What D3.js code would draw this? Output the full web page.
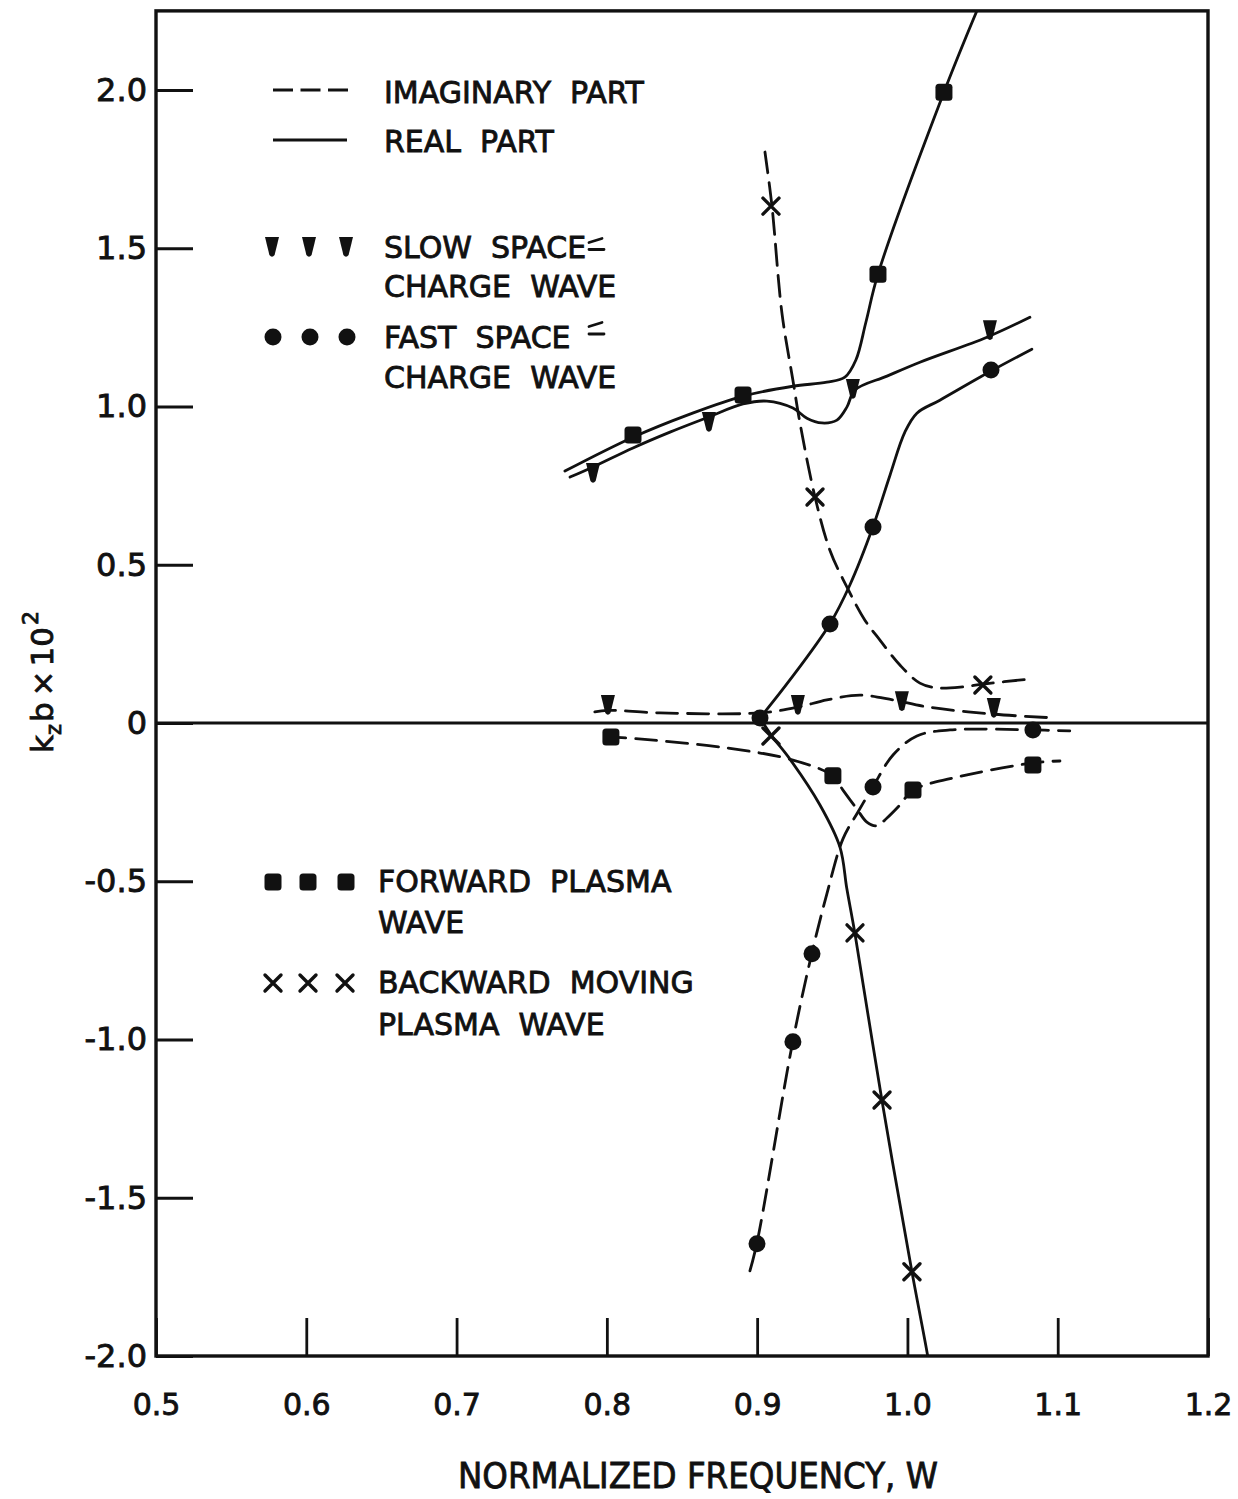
<!DOCTYPE html>
<html>
<head>
<meta charset="utf-8">
<script src="https://cdn.jsdelivr.net/npm/d3@7"></script>
<style>
  body { margin: 0; background: #fff; }
  text { font-family: "DejaVu Sans", sans-serif; fill: #111; }
</style>
</head>
<body>
<svg id="chart" width="1238" height="1499"></svg>
<script>
// Axis ticks
const xTicks = [0.5, 0.6, 0.7, 0.8, 0.9, 1.0, 1.1, 1.2];
const yTicks = [-2.0, -1.5, -1.0, -0.5, 0, 0.5, 1.0, 1.5, 2.0];

// Dispersion curves, [W, kz*b*100]
// Slow space-charge wave
const slowReal = [[0.7755,0.777],[0.7908,0.809],[0.8174,0.869],[0.842,0.919],[0.8679,0.967],[0.8906,1.008],[0.9065,1.017],[0.9238,0.995],[0.9331,0.963],[0.9431,0.948],[0.9531,0.957],[0.9597,0.998],[0.9651,1.052],[0.9864,1.096],[1.0083,1.140],[1.0529,1.219],[1.0815,1.282]];
const slowImag = [[0.792,0.035],[0.8007,0.040],[0.8353,0.032],[0.9019,0.032],[0.9271,0.050],[0.9464,0.073],[0.9684,0.088],[0.9904,0.073],[1.0130,0.051],[1.0569,0.028],[1.0981,0.016]];
const slowRealPts = [[0.7908,0.790],[0.8679,0.951],[0.9637,1.055],[1.0549,1.241]];
const slowImagPts = [[0.8007,0.057],[0.9271,0.057],[0.9963,0.069],[1.0575,0.047]];

// Fast space-charge wave
const fastReal = [[0.9019,0.016],[0.9218,0.136],[0.9484,0.313],[0.9617,0.436],[0.9770,0.619],[0.9884,0.783],[0.9983,0.919],[1.0063,0.979],[1.0216,1.020],[1.0556,1.112],[1.0828,1.181]];
const fastImag = [[0.8952,-1.731],[0.8999,-1.642],[0.9238,-1.004],[0.9365,-0.726],[0.9464,-0.540],[0.9571,-0.366],[0.9671,-0.281],[0.9770,-0.202],[0.9904,-0.101],[1.0063,-0.041],[1.0283,-0.022],[1.0835,-0.022],[1.108,-0.025]];
const fastRealPts = [[0.9019,0.016],[0.9485,0.313],[0.9771,0.619],[1.0556,1.115]];
const fastImagPts = [[0.8999,-1.645],[0.9238,-1.007],[0.9365,-0.729],[0.9771,-0.202],[1.0835,-0.022]];

// Forward plasma wave
const fwdReal = [[0.7721,0.796],[0.8174,0.903],[0.8553,0.976],[0.8906,1.033],[0.9238,1.064],[0.9464,1.077],[0.9584,1.093],[0.9657,1.147],[0.9724,1.267],[0.9804,1.418],[1.0243,1.993],[1.0469,2.258]];
const fwdImag = [[0.7987,-0.041],[0.8021,-0.044],[0.8134,-0.047],[0.8799,-0.079],[0.9238,-0.117],[0.9504,-0.167],[0.9571,-0.212],[0.9664,-0.272],[0.9730,-0.313],[0.9797,-0.325],[0.9864,-0.300],[0.995,-0.259],[1.0037,-0.212],[1.0303,-0.174],[1.0835,-0.126],[1.1015,-0.120]];
const fwdRealPts = [[0.8174,0.910],[0.8906,1.036],[0.9804,1.418],[1.0243,1.993]];
const fwdImagPts = [[0.8027,-0.044],[0.9504,-0.167],[1.0037,-0.212],[1.0835,-0.133]];

// Backward moving plasma wave
const backReal = [[0.9019,0.016],[0.9098,-0.041],[0.9218,-0.114],[0.9418,-0.259],[0.9551,-0.392],[0.9597,-0.524],[0.9651,-0.666],[0.9830,-1.191],[1.0030,-1.734],[1.0136,-2.003],[1.0150,-2.05]];
const backImag = [[0.9052,1.804],[0.9098,1.636],[0.9165,1.295],[0.9238,1.083],[0.9285,0.948],[0.9385,0.714],[0.9484,0.546],[0.9597,0.430],[0.9717,0.325],[0.9817,0.262],[0.995,0.183],[1.0083,0.126],[1.0196,0.111],[1.0369,0.114],[1.0502,0.123],[1.0815,0.139]];
const backRealPts = [[0.9092,-0.041],[0.9651,-0.663],[0.9831,-1.191],[1.003,-1.734]];
const backImagPts = [[0.9092,1.633],[0.9385,0.714],[1.0502,0.120]];

const svg = d3.select("#chart");
const ink = "#111";
const TEXT_STROKE = 0.85;

const x = d3.scaleLinear().domain([0.5, 1.2]).range([156, 1208]);
const y = d3.scaleLinear().domain([-2, 2]).range([1356, 90]);
const yTop = 2.25;

const frameL = x(0.5), frameR = x(1.2), frameT = y(yTop), frameB = y(-2);

svg.append("defs").append("clipPath").attr("id", "plotClip")
  .append("rect").attr("x", frameL).attr("y", frameT)
  .attr("width", frameR - frameL).attr("height", frameB - frameT);

// Axes with inward ticks
const yAxis = d3.axisLeft(y).tickValues(yTicks).tickSize(-37).tickPadding(9)
  .tickFormat(d => d === 0 ? "0" : (d < 0 ? "-" : "") + Math.abs(d).toFixed(1));
const gy = svg.append("g").attr("transform", `translate(${frameL},0)`).call(yAxis);
gy.select(".domain").remove();
gy.selectAll("line").attr("stroke", ink).attr("stroke-width", 2.8);
gy.selectAll("text").attr("font-size", 32).attr("font-family", "DejaVu Sans")
  .attr("fill", ink).attr("stroke", ink).attr("stroke-width", TEXT_STROKE);

const xAxis = d3.axisBottom(x).tickValues(xTicks).tickSize(-38).tickPadding(38)
  .tickFormat(d => d.toFixed(1));
const gx = svg.append("g").attr("transform", `translate(0,${frameB})`).call(xAxis);
gx.select(".domain").remove();
gx.selectAll("line").attr("stroke", ink).attr("stroke-width", 2.8);
gx.selectAll("text").attr("font-size", 30).attr("font-family", "DejaVu Sans")
  .attr("fill", ink).attr("stroke", ink).attr("stroke-width", TEXT_STROKE);

// Frame
svg.append("rect").attr("x", frameL).attr("y", frameT)
  .attr("width", frameR - frameL).attr("height", frameB - frameT)
  .attr("fill", "none").attr("stroke", ink).attr("stroke-width", 3.4);

// Zero line
svg.append("line").attr("x1", frameL).attr("x2", frameR)
  .attr("y1", y(0)).attr("y2", y(0))
  .attr("stroke", ink).attr("stroke-width", 2.8);

const plot = svg.append("g").attr("clip-path", "url(#plotClip)");
const line = d3.line().x(d => x(d[0])).y(d => y(d[1])).curve(d3.curveCatmullRom.alpha(0.5));
const DASH = "21,10";

function curve(data, dashed) {
  plot.append("path").datum(data).attr("d", line)
    .attr("fill", "none").attr("stroke", ink).attr("stroke-width", 2.8)
    .attr("stroke-linecap", "round")
    .attr("stroke-dasharray", dashed ? DASH : null);
}

[slowReal, fastReal, fwdReal, backReal].forEach(d => curve(d, false));
[slowImag, fastImag, fwdImag, backImag].forEach(d => curve(d, true));

// Marker shapes
const TRI = "M-7,-10 L7,-10 L2.6,8 Q0,11.5 -2.6,8 Z";
function drawMarker(g, kind, cx, cy) {
  if (kind === "tri") {
    g.append("path").attr("d", TRI).attr("transform", `translate(${cx},${cy})`).attr("fill", ink);
  } else if (kind === "dot") {
    g.append("circle").attr("cx", cx).attr("cy", cy).attr("r", 8.5).attr("fill", ink);
  } else if (kind === "sq") {
    g.append("rect").attr("x", cx - 8.5).attr("y", cy - 8.5).attr("width", 17).attr("height", 17)
      .attr("rx", 3.5).attr("fill", ink);
  } else if (kind === "x") {
    g.append("path").attr("d", "M-8,-8 L8,8 M-8,8 L8,-8")
      .attr("transform", `translate(${cx},${cy})`)
      .attr("stroke", ink).attr("stroke-width", 3.4).attr("stroke-linecap", "round").attr("fill", "none");
  }
}
function markers(data, kind) {
  data.forEach(d => drawMarker(plot, kind, x(d[0]), y(d[1])));
}
markers(slowRealPts, "tri");
markers(slowImagPts, "tri");
markers(fastRealPts, "dot");
markers(fastImagPts, "dot");
markers(fwdRealPts, "sq");
markers(fwdImagPts, "sq");
markers(backRealPts, "x");
markers(backImagPts, "x");

// Legend
const leg = svg.append("g");
function legText(tx, ty, s) {
  leg.append("text").attr("x", tx).attr("y", ty).attr("font-size", 30)
    .attr("stroke", ink).attr("stroke-width", TEXT_STROKE).attr("xml:space", "preserve").text(s);
}
leg.append("line").attr("x1", 273).attr("x2", 348).attr("y1", 90).attr("y2", 90)
  .attr("stroke", ink).attr("stroke-width", 2.8).attr("stroke-dasharray", "20,7.5");
legText(384, 103, "IMAGINARY  PART");
leg.append("line").attr("x1", 273).attr("x2", 347).attr("y1", 140).attr("y2", 140)
  .attr("stroke", ink).attr("stroke-width", 2.8);
legText(384, 152, "REAL  PART");

[272, 309, 346].forEach(cx => drawMarker(leg, "tri", cx, 247));
legText(384, 258, "SLOW  SPACE");
legText(384, 297, "CHARGE  WAVE");
[273, 310, 347].forEach(cx => drawMarker(leg, "dot", cx, 337));
legText(384, 348, "FAST  SPACE");
legText(384, 388, "CHARGE  WAVE");

// hyphen marks after "SPACE"
[[242.5, 249.5], [326.5, 334]].forEach(([a, b]) => {
  leg.append("path").attr("d", `M589,${a} L602,${a - 4} M589,${b} L604,${b}`)
    .attr("stroke", ink).attr("stroke-width", 2.8).attr("fill", "none").attr("stroke-linecap", "round");
});

[273, 308, 346].forEach(cx => drawMarker(leg, "sq", cx, 882));
legText(378, 892, "FORWARD  PLASMA");
legText(378, 933, "WAVE");
[273, 308, 345].forEach(cx => drawMarker(leg, "x", cx, 983));
legText(378, 993, "BACKWARD  MOVING");
legText(378, 1035, "PLASMA  WAVE");

// Axis titles
svg.append("text").attr("x", 458).attr("y", 1488).attr("font-size", 35)
  .attr("stroke", ink).attr("stroke-width", TEXT_STROKE)
  .attr("textLength", 480).attr("lengthAdjust", "spacingAndGlyphs")
  .text("NORMALIZED FREQUENCY, W");

const yt = svg.append("text").attr("transform", "translate(53,682) rotate(-90)")
  .attr("text-anchor", "middle").attr("font-size", 31)
  .attr("stroke", ink).attr("stroke-width", TEXT_STROKE);
yt.append("tspan").text("k");
yt.append("tspan").attr("font-size", 21).attr("dy", 8).text("z");
yt.append("tspan").attr("dy", -8).attr("dx", 2).text("b");
yt.append("tspan").attr("dx", 6).text("×");
yt.append("tspan").attr("dx", 4).text("10");
yt.append("tspan").attr("font-size", 22).attr("dy", -15).attr("dx", 2).text("2");
</script>
</body>
</html>
